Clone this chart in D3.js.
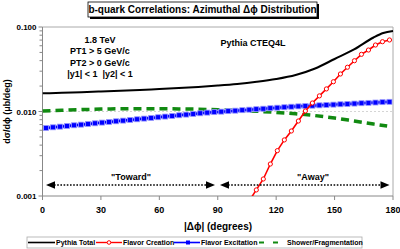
<!DOCTYPE html>
<html>
<head>
<meta charset="utf-8">
<script src="https://cdn.jsdelivr.net/npm/d3@7"></script>
<style>
  body { margin: 0; background: #fff; }
  svg text { font-family: "Liberation Sans", Arial, sans-serif; font-weight: bold; fill: #000; }
</style>
</head>
<body>
<script>
// data
var binDeg = [1.8, 5.4, 9.0, 12.6, 16.2, 19.8, 23.4, 27.0, 30.6, 34.2,
  37.8, 41.4, 45.0, 48.6, 52.2, 55.8, 59.4, 63.0, 66.6, 70.2,
  73.8, 77.4, 81.0, 84.6, 88.2, 91.8, 95.4, 99.0, 102.6, 106.2,
  109.8, 113.4, 117.0, 120.6, 124.2, 127.8, 131.4, 135.0, 138.6, 142.2,
  145.8, 149.4, 153.0, 156.6, 160.2, 163.8, 167.4, 171.0, 174.6, 178.2];

var excitation = [0.00638, 0.00650, 0.00662, 0.00674, 0.00687, 0.00699, 0.00712, 0.00725, 0.00739, 0.00752,
  0.00766, 0.00780, 0.00795, 0.00809, 0.00824, 0.00839, 0.00855, 0.00871, 0.00887, 0.00903,
  0.00919, 0.00936, 0.00953, 0.00970, 0.00983, 0.00996, 0.01010, 0.01023, 0.01037, 0.01051,
  0.01065, 0.01079, 0.01094, 0.01109, 0.01123, 0.01139, 0.01150, 0.01161, 0.01172, 0.01183,
  0.01195, 0.01206, 0.01218, 0.01229, 0.01241, 0.01253, 0.01265, 0.01277, 0.01290, 0.01302];

// flavor creation only shows up above ~108 deg (first point is below the axis)
var creationDeg = [106.2, 109.8, 113.4, 117.0, 120.6, 124.2, 127.8, 131.4, 135.0, 138.6, 142.2,
  145.8, 149.4, 153.0, 156.6, 160.2, 163.8, 167.4, 171.0, 174.6, 178.2];
var creation = [0.00088, 0.00118, 0.00159, 0.00239, 0.00344, 0.00461, 0.00588, 0.00772, 0.01014, 0.0126, 0.0153,
  0.0185, 0.0225, 0.0278, 0.0334, 0.0399, 0.0475, 0.0534, 0.0612, 0.0670, 0.0702];

var totalDeg = [0, 10, 20, 30, 40, 50, 60, 70, 80, 90, 100, 110, 120, 130, 140, 150, 160, 170, 175, 180];
var total = [0.01642, 0.01664, 0.01692, 0.01724, 0.01758, 0.01801, 0.01846, 0.01897, 0.01954, 0.02025,
  0.02115, 0.02246, 0.02424, 0.02704, 0.03228, 0.04182, 0.0542, 0.07509, 0.0849, 0.08967];

var showerDeg = [0, 10, 20, 30, 40, 50, 60, 70, 80, 90, 100, 110, 120, 130, 140, 150, 160, 170, 177];
var shower = [0.01014, 0.01036, 0.01053, 0.01067, 0.01076, 0.01079, 0.01079, 0.01073, 0.01065, 0.01050,
  0.01030, 0.01006, 0.00976, 0.00939, 0.00894, 0.00837, 0.00772, 0.00711, 0.00673];

var xTicks = [0, 30, 60, 90, 120, 150, 180];
var yTicks = [0.001, 0.01, 0.1];
var yTickLabels = ["0.001", "0.010", "0.100"];

var W = 400, H = 249;
var margin = {top: 27, right: 7, bottom: 53, left: 42.5};

var x = d3.scaleLinear().domain([0, 180]).range([margin.left, W - margin.right]);
var y = d3.scaleLog().domain([0.001, 0.1]).range([H - margin.bottom, margin.top]);

var svg = d3.select("body").append("svg")
  .attr("width", W)
  .attr("height", H);

svg.append("clipPath").attr("id", "plot")
  .append("rect")
  .attr("x", x(0)).attr("y", y(0.1) - 2)
  .attr("width", x(180) - x(0) + 2).attr("height", y(0.001) - y(0.1) + 2);

// plot frame (grey top/right)
svg.append("path")
  .attr("d", "M" + x(0) + "," + y(0.1) + "H" + x(180) + "V" + y(0.001))
  .attr("fill", "none").attr("stroke", "#aaa").attr("stroke-width", 1);

// dotted grid at 0.010
svg.append("line")
  .attr("x1", x(0)).attr("x2", x(180))
  .attr("y1", y(0.01)).attr("y2", y(0.01))
  .attr("stroke", "#aaa").attr("stroke-width", 1).attr("stroke-dasharray", "1,3");

// axes
var minor = [];
[0.001, 0.01].forEach(function(dec) {
  for (var i = 2; i <= 9; i++) minor.push(dec * i);
});

var yAxis = svg.append("g").attr("transform", "translate(" + x(0) + ",0)");
yAxis.append("line").attr("y1", y(0.1)).attr("y2", y(0.001)).attr("stroke", "#888");
yAxis.selectAll(".minor").data(minor).enter().append("line")
  .attr("x1", -3).attr("x2", 0)
  .attr("y1", function(d) { return y(d); }).attr("y2", function(d) { return y(d); })
  .attr("stroke", "#888");
yAxis.selectAll(".major").data(yTicks).enter().append("line")
  .attr("x1", -4).attr("x2", 0)
  .attr("y1", function(d) { return y(d); }).attr("y2", function(d) { return y(d); })
  .attr("stroke", "#888");
yAxis.selectAll("text").data(yTicks).enter().append("text")
  .attr("x", -6).attr("y", function(d) { return y(d) + 3; })
  .attr("text-anchor", "end")
  .style("font-size", "8px")
  .text(function(d, i) { return yTickLabels[i]; });

var xAxis = svg.append("g").attr("transform", "translate(0," + y(0.001) + ")");
xAxis.append("line").attr("x1", x(0)).attr("x2", x(180)).attr("stroke", "#888");
xAxis.selectAll("line.tick").data(xTicks).enter().append("line")
  .attr("class", "tick")
  .attr("x1", function(d) { return x(d); }).attr("x2", function(d) { return x(d); })
  .attr("y1", 0).attr("y2", 4)
  .attr("stroke", "#888");
xAxis.selectAll("text").data(xTicks).enter().append("text")
  .attr("x", function(d) { return x(d); }).attr("y", 17)
  .attr("text-anchor", "middle")
  .style("font-size", "9px")
  .text(function(d) { return d; });

svg.append("text")
  .attr("x", 218).attr("y", 230)
  .attr("text-anchor", "middle")
  .style("font-size", "10px")
  .text("|\u0394\u03d5| (degrees)");

svg.append("text")
  .attr("transform", "translate(10," + ((y(0.1) + y(0.001)) / 2) + ") rotate(-90)")
  .attr("text-anchor", "middle")
  .style("font-size", "9px")
  .text("d\u03c3/d\u03d5 (\u03bcb/deg)");

// curves
var line = d3.line()
  .x(function(d) { return x(d[0]); })
  .y(function(d) { return y(d[1]); });
var curve = d3.line()
  .curve(d3.curveMonotoneX)
  .x(function(d) { return x(d[0]); })
  .y(function(d) { return y(d[1]); });

var plot = svg.append("g").attr("clip-path", "url(#plot)");

var showerPts = d3.zip(showerDeg, shower);
plot.append("path").datum(showerPts)
  .attr("d", curve)
  .attr("fill", "none").attr("stroke", "#118a11").attr("stroke-width", 3.5)
  .attr("stroke-dasharray", "8,5");

var excPts = d3.zip(binDeg, excitation);
plot.append("path").datum(excPts)
  .attr("d", line)
  .attr("fill", "none").attr("stroke", "#b4b4ff").attr("stroke-width", 4.5);
plot.append("path").datum(excPts)
  .attr("d", line)
  .attr("fill", "none").attr("stroke", "#0000ff").attr("stroke-width", 2.5);
plot.selectAll(".sq").data(excPts).enter().append("rect")
  .attr("x", function(d) { return x(d[0]) - 2.5; })
  .attr("y", function(d) { return y(d[1]) - 2.5; })
  .attr("width", 5).attr("height", 5)
  .attr("fill", "#0000ff").attr("stroke", "#9a9aff").attr("stroke-width", 0.8);

var totPts = d3.zip(totalDeg, total);
plot.append("path").datum(totPts)
  .attr("d", curve)
  .attr("fill", "none").attr("stroke", "#000").attr("stroke-width", 2);

var crePts = d3.zip(creationDeg, creation);
plot.append("path").datum(crePts)
  .attr("d", line)
  .attr("fill", "none").attr("stroke", "#ff0000").attr("stroke-width", 1.6);
plot.selectAll(".ci").data(crePts.filter(function(d) { return d[1] >= 0.001; })).enter().append("circle")
  .attr("cx", function(d) { return x(d[0]); })
  .attr("cy", function(d) { return y(d[1]); })
  .attr("r", 2.1)
  .attr("fill", "#fff").attr("stroke", "#ff0000").attr("stroke-width", 1);

// Toward / Away arrows
var arrowY = 185;
function arrow(x1, x2) {
  svg.append("line")
    .attr("x1", x1 + 8).attr("x2", x2 - 8)
    .attr("y1", arrowY).attr("y2", arrowY)
    .attr("stroke", "#000").attr("stroke-width", 1.6).attr("stroke-dasharray", "1.6,1.6");
  svg.append("path")
    .attr("d", "M" + x1 + "," + arrowY + "l9,-3.8v7.6z");
  svg.append("path")
    .attr("d", "M" + x2 + "," + arrowY + "l-9,-3.8v7.6z");
}
arrow(46, 215);
arrow(220, 389.5);

svg.append("text").attr("x", 131).attr("y", 180).attr("text-anchor", "middle")
  .style("font-size", "9px").text("\"Toward\"");
svg.append("text").attr("x", 313).attr("y", 180).attr("text-anchor", "middle")
  .style("font-size", "9px").text("\"Away\"");

// annotations
var notes = ["1.8 TeV", "PT1 > 5 GeV/c", "PT2 > 0 GeV/c", "|y1| < 1  |y2| < 1"];
svg.selectAll(".note").data(notes).enter().append("text")
  .attr("x", 100).attr("y", function(d, i) { return 43 + i * 11.3; })
  .attr("text-anchor", "middle")
  .attr("xml:space", "preserve")
  .style("font-size", "9px").style("white-space", "pre")
  .text(function(d) { return d; });
svg.append("text").attr("x", 253).attr("y", 46).attr("text-anchor", "middle")
  .style("font-size", "9px").text("Pythia CTEQ4L");

// title box with shadow
svg.append("rect").attr("x", 90).attr("y", 4).attr("width", 229).attr("height", 15).attr("fill", "#000");
svg.append("rect").attr("x", 88).attr("y", 2).attr("width", 229).attr("height", 15)
  .attr("fill", "#fff").attr("stroke", "#000").attr("stroke-width", 0.8);
svg.append("text").attr("x", 202.5).attr("y", 13).attr("text-anchor", "middle")
  .style("font-size", "10px").text("b-quark Correlations: Azimuthal \u0394\u03d5 Distribution");

// legend
var legend = svg.append("g");
legend.append("rect").attr("x", 27).attr("y", 237).attr("width", 335).attr("height", 11)
  .attr("fill", "#fff").attr("stroke", "#aaa").attr("stroke-width", 0.8);
var ly = 242.5;
legend.append("line").attr("x1", 28).attr("x2", 55).attr("y1", ly).attr("y2", ly)
  .attr("stroke", "#000").attr("stroke-width", 1.6);
legend.append("line").attr("x1", 96).attr("x2", 122).attr("y1", ly).attr("y2", ly)
  .attr("stroke", "#ff0000").attr("stroke-width", 1.4);
legend.append("circle").attr("cx", 109).attr("cy", ly).attr("r", 1.8)
  .attr("fill", "#fff").attr("stroke", "#ff0000").attr("stroke-width", 1);
legend.append("line").attr("x1", 174).attr("x2", 200).attr("y1", ly).attr("y2", ly)
  .attr("stroke", "#0000ff").attr("stroke-width", 1.6);
legend.append("rect").attr("x", 186).attr("y", ly - 2).attr("width", 4).attr("height", 4).attr("fill", "#0000ff");
legend.append("line").attr("x1", 259).attr("x2", 283).attr("y1", ly).attr("y2", ly)
  .attr("stroke", "#118a11").attr("stroke-width", 2.2).attr("stroke-dasharray", "5,9");
var legendText = [[56, "Pythia Total"], [123, "Flavor Creation"], [201, "Flavor Excitation"], [287, "Shower/Fragmentation"]];
legend.selectAll("text").data(legendText).enter().append("text")
  .attr("x", function(d) { return d[0]; }).attr("y", ly + 2.5)
  .style("font-size", "7px")
  .text(function(d) { return d[1]; });
</script>
</body>
</html>
